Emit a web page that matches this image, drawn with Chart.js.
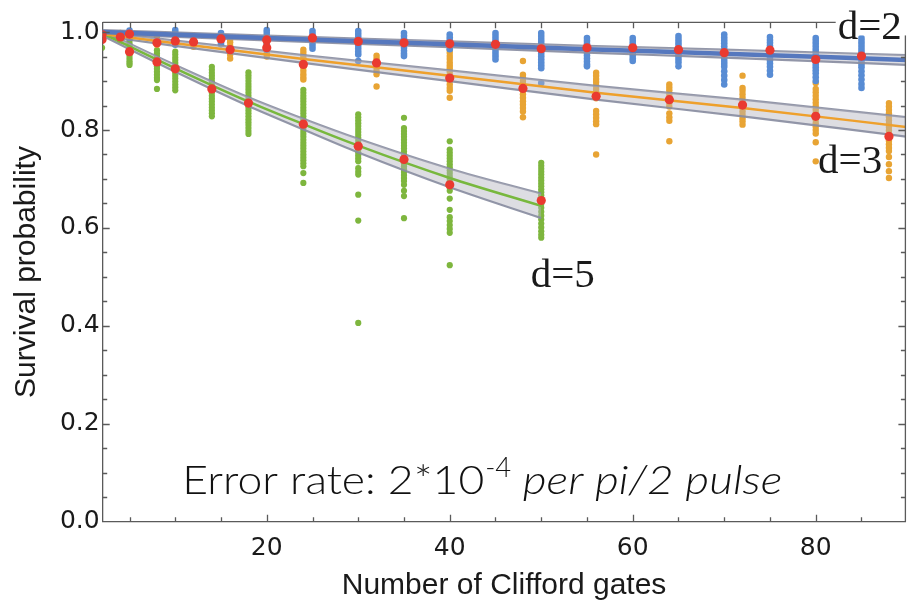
<!DOCTYPE html>
<html><head><meta charset="utf-8">
<script src="https://cdn.jsdelivr.net/npm/chart.js@4/dist/chart.umd.min.js"></script>
<style>html,body{margin:0;padding:0;overflow:hidden;background:#fff}canvas{display:block}</style>
</head><body>
<canvas id="c" width="910" height="602"></canvas>
<script>
// ---------- data ----------
const xTicks = [20, 40, 60, 80];
const yTicks = [0, 0.2, 0.4, 0.6, 0.8, 1.0];

// d=2 (blue)
const blueX = [2,5,10,15,20,25,30,35,40,45,50,55,60,65,70,75,80,85];
const blueVals = [
  [1.002,0.997,0.992,0.987],
  [1.003,0.998,0.993,0.988],
  [1.004,0.998,0.992,0.986,0.980,0.974],
  [0.998,0.992,0.986,0.980,0.975],
  [1.004,0.998,0.992,0.986,0.980,0.974,0.968,0.964],
  [1.002,0.996,0.990,0.984,0.978,0.972,0.966],
  [1.002,0.996,0.990,0.984,0.978,0.972,0.966,0.960,0.954,0.941],
  [0.998,0.992,0.986,0.980,0.974,0.968,0.962,0.956,0.951],
  [0.995,0.989,0.983,0.977,0.971,0.965],
  [0.998,0.992,0.986,0.980,0.974,0.968,0.962,0.956,0.950,0.944],
  [0.998,0.992,0.986,0.980,0.974,0.968,0.962,0.956,0.950,0.944,0.938,0.932,0.926,0.896],
  [0.988,0.982,0.976,0.970,0.964,0.958,0.952,0.946,0.940,0.934,0.930],
  [0.988,0.982,0.976,0.970,0.964,0.958,0.952,0.946,0.941],
  [0.992,0.986,0.980,0.974,0.968,0.962,0.956,0.950,0.944,0.938,0.930],
  [0.995,0.989,0.983,0.977,0.971,0.965,0.959,0.953,0.947,0.941,0.935,0.929,0.920,0.911,0.902,0.893],
  [0.990,0.984,0.978,0.972,0.966,0.960,0.954,0.948,0.942,0.936,0.929,0.921,0.913],
  [0.988,0.982,0.976,0.970,0.964,0.958,0.952,0.946,0.940,0.934,0.928,0.922,0.916,0.908,0.900],
  [0.988,0.982,0.976,0.970,0.964,0.958,0.952,0.946,0.940,0.934,0.928,0.920,0.912,0.903,0.894,0.886]
];
const blueMeans = [0.995,0.996,0.982,0.986,0.984,0.988,0.981,0.978,0.976,0.975,0.966,0.968,0.968,0.964,0.958,0.963,0.944,0.951];

// d=3 (orange)
const orangeX = [4,8,12,16,20,24,32,40,48,56,64,72,80,88];
const orangeVals = [
  [0.998,0.993,0.988,0.983],
  [0.992,0.986,0.980,0.974],
  [0.988,0.982,0.976,0.970],
  [0.985,0.979,0.972,0.966,0.960,0.954,0.946],
  [0.976,0.970,0.963,0.957,0.950],
  [0.964,0.958,0.952,0.946,0.940,0.934,0.928,0.921,0.914,0.908,0.903],
  [0.952,0.946,0.940,0.934,0.928,0.921,0.914,0.889],
  [0.964,0.958,0.951,0.945,0.938,0.932,0.926,0.919,0.912,0.906,0.900,0.893,0.886,0.880,0.866],
  [0.941,0.913,0.907,0.900,0.893,0.887,0.880,0.873,0.866,0.859,0.852,0.845,0.838,0.826],
  [0.917,0.911,0.904,0.898,0.891,0.884,0.877,0.870,0.865,0.839,0.832,0.825,0.818,0.812,0.750],
  [0.893,0.887,0.881,0.874,0.868,0.862,0.855,0.848,0.834,0.826,0.819,0.777],
  [0.911,0.886,0.880,0.873,0.866,0.859,0.852,0.845,0.838,0.831,0.824,0.818,0.811],
  [0.896,0.884,0.877,0.870,0.863,0.856,0.849,0.842,0.835,0.828,0.821,0.814,0.807,0.800,0.793,0.775,0.736],
  [0.855,0.848,0.841,0.834,0.827,0.820,0.813,0.806,0.799,0.792,0.785,0.778,0.771,0.764,0.757,0.745,0.730,0.716,0.702]
];
const orangeMeans = [0.990,0.978,0.980,0.964,0.968,0.934,0.937,0.906,0.885,0.869,0.862,0.851,0.828,0.787];

// d=5 (green)
const greenX = [2,5,8,10,14,18,24,30,35,40,50];
const greenVals = [
  [0.998,0.993,0.988,0.984,0.980,0.976,0.972,0.968],
  [0.990,0.983,0.977,0.971,0.966,0.961,0.956,0.951,0.946,0.941,0.937,0.933],
  [0.963,0.957,0.951,0.945,0.940,0.935,0.930,0.925,0.919,0.913,0.907,0.902,0.884],
  [0.960,0.954,0.948,0.943,0.937,0.932,0.927,0.922,0.917,0.911,0.905,0.899,0.893,0.887,0.881],
  [0.929,0.923,0.917,0.911,0.905,0.899,0.893,0.887,0.882,0.876,0.870,0.864,0.858,0.852,0.846,0.840,0.834,0.828],
  [0.918,0.912,0.906,0.900,0.894,0.888,0.882,0.876,0.870,0.864,0.858,0.852,0.846,0.840,0.834,0.828,0.822,0.816,0.810,0.804,0.798,0.792],
  [0.882,0.876,0.870,0.864,0.858,0.852,0.846,0.840,0.834,0.828,0.822,0.816,0.810,0.804,0.798,0.792,0.786,0.780,0.774,0.768,0.762,0.756,0.750,0.744,0.738,0.732,0.726,0.712,0.692],
  [0.832,0.826,0.820,0.814,0.808,0.802,0.796,0.790,0.784,0.778,0.772,0.766,0.760,0.754,0.748,0.742,0.736,0.722,0.715,0.709,0.668,0.615,0.406],
  [0.825,0.804,0.798,0.792,0.786,0.780,0.774,0.768,0.762,0.756,0.750,0.744,0.738,0.732,0.726,0.720,0.714,0.708,0.702,0.696,0.688,0.676,0.665,0.620],
  [0.777,0.760,0.754,0.748,0.742,0.736,0.730,0.724,0.718,0.712,0.706,0.700,0.694,0.688,0.682,0.676,0.660,0.637,0.622,0.614,0.606,0.598,0.590,0.524],
  [0.733,0.727,0.721,0.715,0.709,0.703,0.697,0.691,0.685,0.679,0.673,0.667,0.661,0.655,0.649,0.641,0.633,0.625,0.617,0.609,0.601,0.593,0.586,0.580]
];
const greenMeans = [0.985,0.960,0.939,0.925,0.884,0.855,0.812,0.767,0.740,0.688,0.656];

// fitted curves with confidence bands
const blueFitX = [2,20,40,55,70,90];
const blueFit = [1.000,0.988,0.975,0.965,0.956,0.943];
const blueUpper = [1.004,0.993,0.981,0.972,0.964,0.953];
const blueLower = [0.996,0.983,0.969,0.958,0.948,0.933];

const orangeFitX = [2,24,40,56,72,90];
const orangeFit = [0.996,0.945,0.911,0.876,0.845,0.806];
const orangeUpper = [1.000,0.953,0.922,0.890,0.862,0.826];
const orangeLower = [0.992,0.937,0.900,0.862,0.828,0.786];

const greenFitX = [2,10,18,24,30,40,50];
const greenFit = [0.998,0.926,0.858,0.812,0.768,0.702,0.645];
const greenUpper = [1.003,0.933,0.867,0.823,0.782,0.721,0.670];
const greenLower = [0.993,0.919,0.849,0.801,0.754,0.683,0.620];

// ---------- helpers ----------
function pts(xs, cols) { const o = []; xs.forEach((x, i) => cols[i].forEach(v => o.push({x, y: v}))); return o; }
function xy(xs, ys) { return xs.map((x, i) => ({x, y: ys[i]})); }

const C = {
  blue: 'rgb(88,140,212)', orange: 'rgb(232,164,52)', green: 'rgb(126,182,62)', red: 'rgb(234,58,48)',
  blueLine: 'rgb(86,120,190)', orangeLine: 'rgb(238,160,44)', greenLine: 'rgb(120,184,62)',
  bandEdge: 'rgba(135,140,160,0.9)', bandFill: 'rgba(180,180,190,0.45)'
};

function dots(data, color, r, order) {
  return {type: 'scatter', data, backgroundColor: color, borderWidth: 0, pointRadius: r, pointHoverRadius: r, order};
}
function curve(data, color, w, order, fill) {
  return {type: 'line', data, borderColor: color, borderWidth: w, pointRadius: 0, fill: fill || false,
    backgroundColor: C.bandFill, cubicInterpolationMode: 'monotone', order};
}

const datasets = [
  dots(pts(greenX, greenVals), C.green, 3.1, 40),
  dots(pts(orangeX, orangeVals), C.orange, 3.2, 39),
  dots(pts(blueX, blueVals), C.blue, 3.3, 38),
  curve(xy(blueFitX, blueUpper), C.bandEdge, 2.2, 21),
  curve(xy(blueFitX, blueLower), C.bandEdge, 2.2, 20, '-1'),
  curve(xy(orangeFitX, orangeUpper), C.bandEdge, 2.2, 21),
  curve(xy(orangeFitX, orangeLower), C.bandEdge, 2.2, 20, '-1'),
  curve(xy(greenFitX, greenUpper), C.bandEdge, 2.2, 21),
  curve(xy(greenFitX, greenLower), C.bandEdge, 2.2, 20, '-1'),
  curve(xy(blueFitX, blueFit), C.blueLine, 4.5, 10),
  curve(xy(orangeFitX, orangeFit), C.orangeLine, 2.5, 10),
  curve(xy(greenFitX, greenFit), C.greenLine, 2.5, 10),
  dots(xy(blueX, blueMeans), C.red, 4.6, 0),
  dots(xy(orangeX, orangeMeans), C.red, 4.6, 0),
  dots(xy(greenX, greenMeans), C.red, 4.6, 0)
];

const AXIS = 'rgb(90,90,90)';

const framePlugin = {
  id: 'frame',
  afterDatasetsDraw(chart) {
    const {ctx, chartArea: a, scales: {x, y}} = chart;
    ctx.save();
    ctx.strokeStyle = AXIS; ctx.lineWidth = 1.3;
    ctx.beginPath();
    ctx.moveTo(a.left, a.top); ctx.lineTo(a.right, a.top); ctx.lineTo(a.right, a.bottom);
    for (let v = 5; v < x.max; v += 5) {
      const px = Math.round(x.getPixelForValue(v)) + 0.5;
      const major = xTicks.includes(v);
      ctx.moveTo(px, a.bottom); ctx.lineTo(px, a.bottom - (major ? 7 : 4.5));
      ctx.moveTo(px, a.top); ctx.lineTo(px, a.top + 6);
    }
    for (let k = 1; k <= 20; k++) {
      const py = Math.round(y.getPixelForValue(k * 0.05)) + 0.5;
      const major = k % 4 === 0;
      const len = major ? 7 : 4.5;
      ctx.moveTo(a.left, py); ctx.lineTo(a.left + len, py);
      ctx.moveTo(a.right, py); ctx.lineTo(a.right - len, py);
    }
    ctx.stroke();
    ctx.restore();
  }
};

function fitText(ctx, text, font, px, py, target) {
  ctx.font = font;
  const w = ctx.measureText(text).width;
  ctx.save();
  ctx.translate(px, py);
  ctx.scale(target / w, 1);
  ctx.fillText(text, 0, 0);
  ctx.restore();
}

const notesPlugin = {
  id: 'notes',
  afterDraw(chart) {
    const {ctx, scales: {x, y}} = chart;
    ctx.save();
    ctx.textBaseline = 'alphabetic';
    ctx.textAlign = 'left';
    const d2x = x.getPixelForValue(82.4), d2y = y.getPixelForValue(0.985);
    ctx.fillStyle = '#fff';
    ctx.fillRect(d2x - 2, d2y - 29, 80, 25);
    ctx.fillStyle = '#1a1a1a';
    ctx.font = '41px "Liberation Serif"';
    ctx.fillText('d=2', d2x, d2y);
    ctx.fillText('d=3', x.getPixelForValue(80.25), y.getPixelForValue(0.712));
    ctx.fillText('d=5', x.getPixelForValue(48.84), y.getPixelForValue(0.4795));
    const ex = x.getPixelForValue(10.76), ey = y.getPixelForValue(0.0566);
    ctx.fillStyle = '#111';
    fitText(ctx, 'Error rate: 2*10', '300 40px Lato', ex, ey, 302);
    fitText(ctx, '-4', '300 27px Lato', ex + 303, ey - 17, 26);
    fitText(ctx, ' per pi/2 pulse', 'italic 300 40px Lato', ex + 329, ey, 271);
    ctx.restore();
  }
};

new Chart(document.getElementById('c'), {
  type: 'scatter',
  data: {datasets},
  plugins: [framePlugin, notesPlugin],
  options: {
    responsive: false,
    animation: false,
    events: [],
    layout: {padding: {top: 22.3, right: 0, bottom: 0, left: 0}},
    plugins: {legend: {display: false}, tooltip: {enabled: false}},
    scales: {
      x: {
        type: 'linear', min: 2.07, max: 89.8,
        afterFit: s => { s.height = 80.3; },
        afterBuildTicks: s => { s.ticks = xTicks.map(v => ({value: v})); },
        grid: {display: false, drawTicks: false},
        border: {display: true, color: AXIS, width: 1.3},
        ticks: {color: '#1a1a1a', font: {family: 'DejaVu Sans', size: 25}, padding: 12, maxRotation: 0, autoSkip: false},
        title: {display: true, text: 'Number of Clifford gates', color: '#1a1a1a',
          font: {family: 'Liberation Sans', size: 30, lineHeight: 1}, padding: {top: 0, bottom: 1}}
      },
      y: {
        type: 'linear', min: 0, max: 1.02,
        afterFit: s => { s.width = 102.7; },
        afterBuildTicks: s => { s.ticks = yTicks.map(v => ({value: v})); },
        grid: {display: false, drawTicks: false},
        border: {display: true, color: AXIS, width: 1.3},
        ticks: {color: '#1a1a1a', font: {family: 'DejaVu Sans', size: 25}, padding: 3,
          callback: v => v.toFixed(1)},
        title: {display: true, text: 'Survival probability', color: '#1a1a1a',
          font: {family: 'Liberation Sans', size: 30, lineHeight: 1.2}, padding: {top: 9, bottom: 0}}
      }
    }
  }
});
</script>
</body></html>
